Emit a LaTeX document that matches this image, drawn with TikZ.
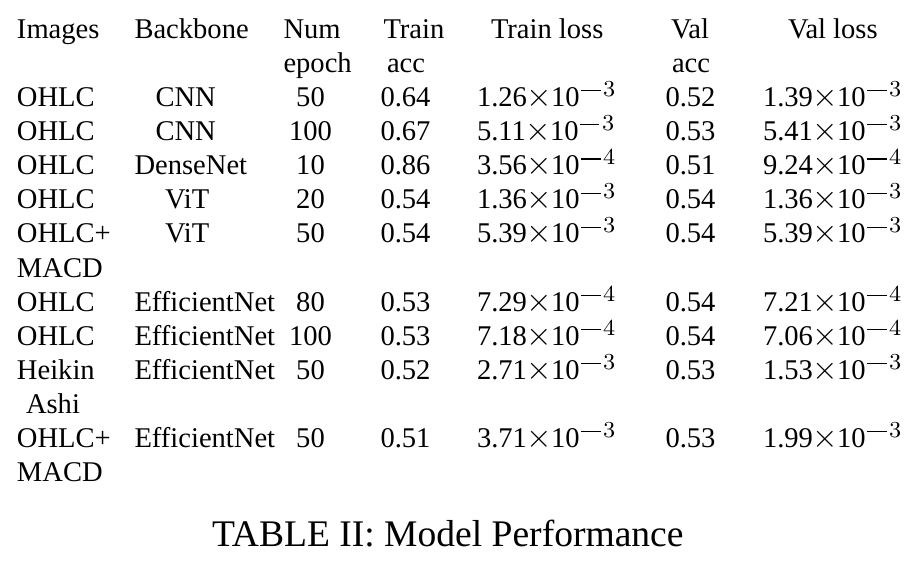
\documentclass[tikz,border=0pt]{standalone}
\usepackage{fontspec}
\setmainfont{Liberation Serif}
\newcommand\sci[2]{#1\kern-0.25pt\scalebox{1.15}{$\times$}\kern-0.25pt10\kern0.4pt\raisebox{5.3pt}{\rule{6.9pt}{0.38pt}}\kern0.9pt\raisebox{3.5pt}{\fontsize{8}{9}\selectfont$#2$}}
\tikzset{
  cell/.style={anchor=base west,inner sep=0pt,outer sep=0pt,font=\fontsize{10}{12}\selectfont},
  cellc/.style={anchor=base,inner sep=0pt,outer sep=0pt,font=\fontsize{10}{12}\selectfont},
  captionstyle/.style={anchor=base west,inner sep=0pt,outer sep=0pt,font=\fontsize{13.15}{15}\selectfont}
}
\begin{document}
\begin{tikzpicture}[x=0.3501pt,y=-0.3501pt]
\fill[white] (0,0) rectangle (914,564);
\useasboundingbox (0,0) rectangle (914,564);
% header
\node[cell] (hImages) at (17,38.8) {Images};
\node[cell] (hBackbone) at (134.5,38.8) {Backbone};
\node[cell] (hNum) at (283.5,38.8) {Num};
\node[cell] (hEpoch) at (283.5,72.6) {epoch};
\node[cell] (hTrain) at (383.5,38.8) {Train};
\node[cell] (hTacc) at (387,72.6) {acc};
\node[cell] (hTloss) at (491,38.8) {Train loss};
\node[cell] (hVal) at (671,38.8) {Val};
\node[cell] (hVacc) at (672,72.6) {acc};
\node[cell] (hVloss) at (788,38.8) {Val loss};
% rows
\foreach \k/\img/\bb/\bx/\ep/\ta/\tm/\te/\va/\vm/\ve in {
  2/OHLC/CNN/155.5/50/0.64/1.26/3/0.52/1.39/3,
  3/OHLC/CNN/155.5/100/0.67/5.11/3/0.53/5.41/3,
  4/OHLC/DenseNet/134.5/10/0.86/3.56/4/0.51/9.24/4,
  5/OHLC/ViT/165/20/0.54/1.36/3/0.54/1.36/3,
  6/OHLC+/ViT/165/50/0.54/5.39/3/0.54/5.39/3,
  8/OHLC/EfficientNet/134.5/80/0.53/7.29/4/0.54/7.21/4,
  9/OHLC/EfficientNet/134.5/100/0.53/7.18/4/0.54/7.06/4,
  10/Heikin/EfficientNet/134.5/50/0.52/2.71/3/0.53/1.53/3,
  12/OHLC+/EfficientNet/134.5/50/0.51/3.71/3/0.53/1.99/3}{
  \pgfmathsetmacro\yy{106.5+34.1*(\k-2)}
  \node[cell] (img\k) at (17,\yy) {\img};
  \node[cell] (bb\k) at (\bx,\yy) {\bb};
  \node[cellc] (ep\k) at (310.5,\yy) {\ep};
  \node[cellc] (ta\k) at (405.5,\yy) {\ta};
  \node[cell] (tl\k) at (477,\yy) {\sci{\tm}{\te}};
  \node[cellc] (va\k) at (690.5,\yy) {\va};
  \node[cell] (vl\k) at (763,\yy) {\sci{\vm}{\ve}};
}
\node[cell] (img7) at (17,{106.5+34.1*5}) {MACD};
\node[cell] (img11) at (26,{106.5+34.1*9}) {Ashi};
\node[cell] (img13) at (17,{106.5+34.1*11}) {MACD};
% caption
\node[captionstyle] (caption) at (212,546) {TABLE II: Model Performance};
\end{tikzpicture}
\end{document}
